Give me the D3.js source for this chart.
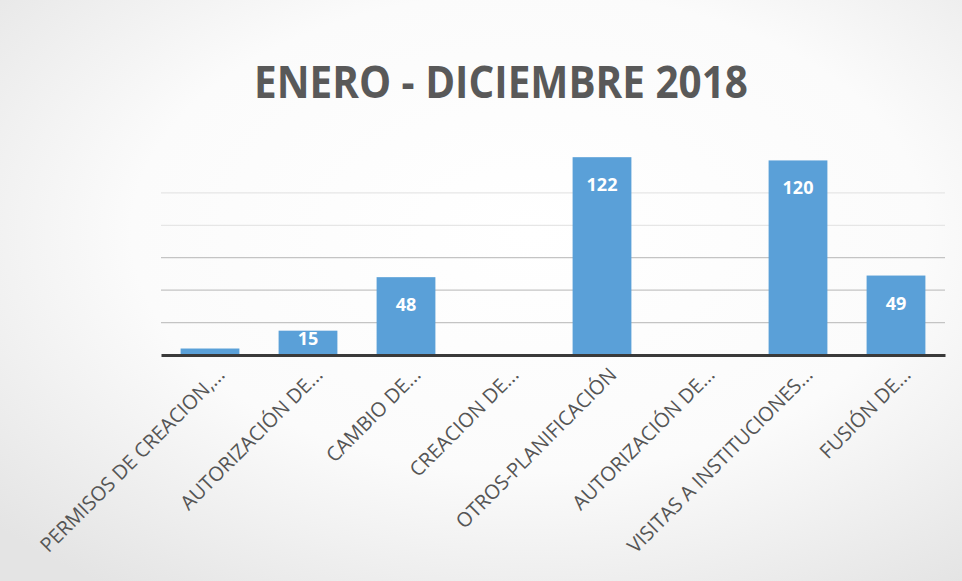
<!DOCTYPE html>
<html><head><meta charset="utf-8">
<script src="https://cdn.jsdelivr.net/npm/d3@7"></script>
<style>
html,body{margin:0;padding:0;background:#ececec;}
svg{display:block;}
</style></head>
<body>
<svg id="chart" width="962" height="581"></svg>
<script>
const categories = ["PERMISOS DE CREACION,...","AUTORIZACIÓN DE...","CAMBIO DE...","CREACION DE...","OTROS-PLANIFICACIÓN","AUTORIZACIÓN DE...","VISITAS A INSTITUCIONES...","FUSIÓN DE..."];
const values = [4, 15, 48, 0, 122, 0, 120, 49];
const yTicks = [0, 20, 40, 60, 80, 100, 120, 140];
const title = "ENERO - DICIEMBRE 2018";

const svg = d3.select("#chart");
const W = 962, H = 581;
const m = {left:161, right:17, top:128, bottom:226};

const defs = svg.append("defs");
const grad = defs.append("radialGradient").attr("id","bg").attr("cx","55%").attr("cy","40%").attr("r","75%");
grad.append("stop").attr("offset","0%").attr("stop-color","#ffffff");
grad.append("stop").attr("offset","55%").attr("stop-color","#fbfbfb");
grad.append("stop").attr("offset","100%").attr("stop-color","#e4e4e4");
svg.append("rect").attr("width",W).attr("height",H).attr("fill","url(#bg)");

const x = d3.scaleBand().domain(d3.range(categories.length)).range([m.left, W - m.right]).paddingInner(0.4).paddingOuter(0.2);
const y = d3.scaleLinear().domain([0, 140]).range([H - m.bottom, m.top]);

// gridlines
svg.append("g").selectAll("line").data(yTicks.filter(d => d > 0 && d < 120)).join("line")
  .attr("x1", m.left).attr("x2", W - m.right)
  .attr("y1", d => y(d)).attr("y2", d => y(d))
  .attr("stroke", d => d <= 60 ? "#c4c4c4" : "#e6e6e6").attr("stroke-width", 1.3);

// bars
svg.append("g").selectAll("rect").data(values).join("rect")
  .attr("x", (d,i) => x(i)).attr("width", x.bandwidth())
  .attr("y", d => y(d)).attr("height", d => y(0) - y(d))
  .attr("fill", "#5aa0d8");

// data labels
const lab = svg.append("g");
values.forEach((v,i) => {
  if (v < 10) return;
  lab.append("text")
    .attr("x", x(i) + x.bandwidth()/2)
    .attr("y", v > 30 ? y(v) + 34 : y(v) + 14)
    .attr("text-anchor","middle")
    .attr("font-family","'Open Sans', sans-serif")
    .attr("font-weight","700")
    .attr("font-size", 18)
    .attr("fill","#ffffff")
    .text(v);
});

// axis
const xAxis = d3.axisBottom(x).tickSize(0).tickFormat(i => categories[i]);
const gx = svg.append("g").attr("transform", `translate(0,${y(0)})`).call(xAxis);
gx.select(".domain").attr("stroke","#3a3a3a").attr("stroke-width",3);
gx.selectAll("text")
  .attr("font-family","'Open Sans', sans-serif")
  .attr("font-size", 20)
  .attr("fill","#555555")
  .attr("text-anchor","end")
  .attr("x", 0).attr("y", 0).attr("dy", 0)
  .attr("transform", "translate(16,21) rotate(-45)");

// title
svg.append("text").attr("x", 501).attr("y", 98)
  .attr("text-anchor","middle")
  .attr("font-family","'Open Sans', sans-serif")
  .attr("font-weight","700")
  .attr("font-size", 44)
  .attr("textLength", 494)
  .attr("lengthAdjust", "spacingAndGlyphs")
  .attr("fill","#595959")
  .text(title);
</script>
</body></html>
